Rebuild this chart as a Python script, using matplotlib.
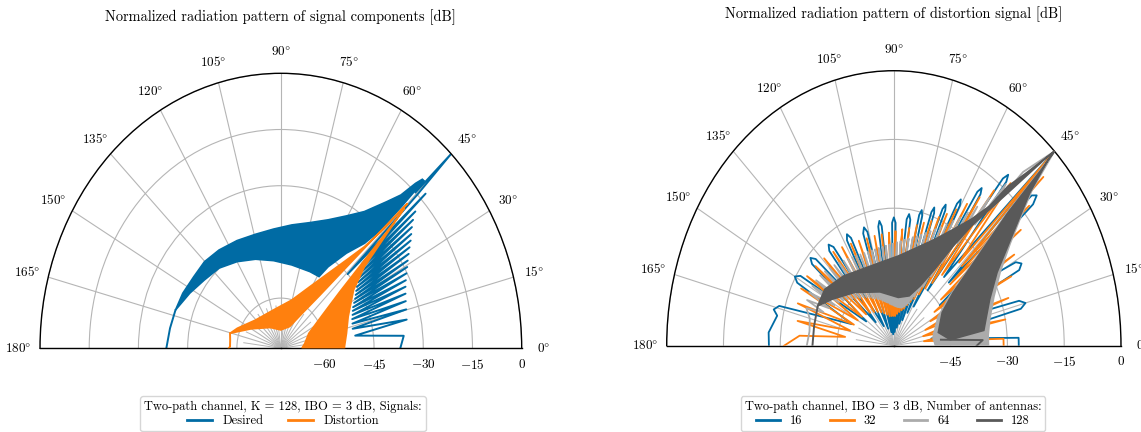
import numpy as np
import matplotlib
matplotlib.use("Agg")
import matplotlib.pyplot as plt
from matplotlib.lines import Line2D
from matplotlib.ticker import FuncFormatter

plt.rcParams['font.family'] = ['cmr10', 'DejaVu Serif']
plt.rcParams['mathtext.fontset'] = 'cm'
plt.rcParams['axes.formatter.use_mathtext'] = True

BLUE = '#006BA4'
ORANGE = '#FF800E'
LGRAY = '#ABABAB'
DGRAY = '#595959'

# ---------------- left panel: desired vs distortion (K = 128) ----------------
# side lobes below the beam, 0..45 deg (angle, level dB)
desired_side_theta = [0.0, 5.1, 8.5, 11.3, 13.4, 15.2, 16.8, 18.3, 19.7, 21.0, 22.2,
                      23.4, 24.5, 25.5, 26.5, 27.6, 28.5, 29.4, 30.3, 31.2, 32.0,
                      32.9, 33.7, 34.5, 35.3, 36.0, 36.8, 37.5, 38.3, 39.0, 39.7,
                      40.4, 41.1, 41.7, 42.4, 43.1, 44.2, 44.6, 45.0, 45.4, 45.8]
desired_side_r = [-37.0, -35.8, -50.5, -34.3, -50.9, -33.8, -50.6, -33.3, -50.3, -32.7, -49.8,
                  -32.0, -49.3, -31.2, -48.8, -30.2, -48.0, -29.2, -47.2, -28.2, -46.5,
                  -27.0, -45.8, -25.8, -45.0, -24.5, -44.0, -23.3, -43.0, -22.0, -42.0,
                  -20.5, -41.0, -18.5, -40.0, -13.0, -45.0, -15.0, 0.0, -15.0, -11.0]
# dense side-lobe band above the beam (upper / lower envelope)
desired_hi_theta = [45.8, 46.3, 47.0, 48.2, 50.5, 55.1, 60.5, 67.2, 75.2, 84.2, 94.0,
                    104.3, 114.9, 125.7, 135.2, 144.3, 153.8, 162.4]
desired_hi_r = [-11.0, -11.0, -13.2, -18.5, -22.7, -28.9, -32.8, -36.2, -38.7, -40.3, -41.5,
                -42.0, -41.7, -41.1, -40.6, -40.7, -40.1, -39.7]
desired_lo_theta = [162.4, 152.0, 142.0, 131.3, 120.0, 108.0, 95.4, 81.5, 66.6, 58.7,
                    56.5, 51.8, 47.7, 46.2, 45.8]
desired_lo_r = [-39.7, -42.0, -43.8, -44.9, -46.7, -48.4, -49.9, -50.9, -51.1, -51.0,
                -47.3, -41.1, -35.5, -30.0, -20.0]
desired_tail_theta = [162.4, 171.0, 180.0]
desired_tail_r = [-39.7, -39.2, -38.5]

dist_left_hi_theta = [45.0, 45.5, 46.8, 49.7, 54.2, 61.7, 75.5, 102.0, 135.7, 158.0, 165.5]
dist_left_hi_r = [-18.7, -29.1, -36.2, -42.5, -48.7, -54.7, -60.1, -62.9, -62.6, -59.1, -57.4]
dist_left_lo_theta = [165.5, 150.0, 120.0, 90.0, 65.0, 55.0, 50.0, 47.0, 45.8, 45.3]
dist_left_lo_r = [-57.4, -63.0, -67.0, -68.5, -67.0, -62.0, -55.0, -42.0, -30.0, -22.0]
dist_tail_theta = [165.5, 172.0, 178.4, 180.0]
dist_tail_r = [-57.4, -57.8, -57.9, -57.5]
dist_right_hi_theta = [44.8, 43.0, 40.5, 35.1, 22.4, 11.3, 1.3, 0.0]
dist_right_hi_r = [-20.3, -31.0, -39.9, -46.3, -51.2, -53.0, -54.0, -54.0]
dist_right_lo_theta = [0.0, 10.0, 25.0, 35.0, 40.0, 42.5, 43.8, 44.5]
dist_right_lo_r = [-67.0, -66.0, -64.0, -58.0, -50.0, -40.0, -30.0, -23.0]
# deep nulls of the pattern near the origin
left_null_theta = [7.5, 22.5, 37.5, 52.5, 67.5, 82.5, 97.5, 112.5, 127.5, 142.5, 157.5, 172.5]
left_null_top = -62.0

# ---------------- right panel: distortion vs number of antennas ----------------
# 128 antennas
a128_left_hi_theta = [45.0, 47.1, 49.1, 50.3, 53.4, 58.3, 65.0, 74.3, 86.6, 101.5, 117.0,
                      131.2, 146.0, 156.6]
a128_left_hi_r = [0.0, -8.5, -14.0, -20.4, -25.6, -30.2, -34.4, -37.8, -40.4, -41.5, -41.3,
                  -39.8, -38.0, -38.1]
a128_left_lo_theta = [156.6, 147.8, 131.9, 107.3, 83.7, 69.6, 62.0, 57.1, 54.2, 51.9, 47.9, 45.6]
a128_left_lo_r = [-38.1, -40.9, -44.4, -47.7, -49.4, -48.4, -45.2, -40.1, -33.2, -26.8, -15.0, -3.0]
a128_tail_theta = [156.6, 168.4, 180.0]
a128_tail_r = [-38.1, -38.5, -38.5]
a128_right_hi_theta = [45.0, 44.9, 42.9, 39.9, 35.9, 30.4, 21.9, 13.4, 8.0]
a128_right_hi_r = [0.0, -2.4, -11.0, -17.0, -22.8, -28.4, -32.7, -35.0, -36.0]
a128_right_lo_theta = [8.0, 5.0, 13.8, 29.6, 36.5, 40.3, 42.5, 43.9, 44.6]
a128_right_lo_r = [-36.0, -45.0, -47.9, -45.3, -40.5, -33.1, -25.7, -18.2, -5.0]
a128_base_theta = [0.0, 3.0, 6.0]
a128_base_r = [-38.1, -36.5, -47.5]

# 64 antennas: lobes above the beam (angle, level), from the main beam outwards
a64_lobe_theta = [45.0, 48.0, 49.0, 50.0, 51.0, 52.0, 53.0, 54.0, 55.0, 56.0, 57.0, 58.0, 59.0,
                  60.0, 61.1, 62.2, 63.3, 64.4, 65.5, 66.6, 67.7, 68.8, 69.9, 71.0, 72.1,
                  73.3, 74.4, 75.6, 76.8, 78.0, 79.2, 80.5, 81.7, 83.0, 84.2, 85.5, 86.7,
                  88.0, 89.2, 90.5, 91.7, 93.0, 94.2, 95.5, 96.7, 98.0, 99.3, 100.6, 101.9,
                  103.2, 104.5, 105.8, 107.1, 108.5, 109.8, 111.2, 112.6, 114.0, 115.4,
                  116.8, 118.2, 119.7, 121.1, 122.6, 124.1, 125.6, 127.1, 128.7, 130.2,
                  131.8, 133.4, 135.0, 136.6, 138.3, 140.0, 141.7, 143.4, 145.2, 147.0,
                  148.8, 150.6, 152.5, 154.5, 156.5, 158.5, 160.5, 165.0, 172.0, 180.0]
a64_lobe_r = [0.0, -9.0, -20.0, -14.0, -26.0, -19.0, -32.0, -22.5, -38.0, -25.0, -42.0, -27.0, -45.0,
              -28.5, -46.5, -30.0, -48.0, -31.3, -49.0, -32.3, -50.0, -33.2, -50.5, -34.0, -51.0,
              -34.7, -51.3, -35.3, -51.5, -35.8, -51.5, -36.3, -51.5, -36.7, -51.5, -37.1, -51.4,
              -37.4, -51.3, -37.7, -51.1, -37.9, -51.0, -38.1, -50.8, -38.2, -50.5, -38.3, -50.3,
              -38.4, -50.0, -38.4, -49.7, -38.4, -49.3, -38.3, -49.0, -38.2, -48.6,
              -38.0, -48.2, -37.8, -47.7, -37.5, -47.2, -37.2, -46.7, -36.8, -46.3,
              -36.4, -45.6, -36.0, -45.0, -35.6, -44.2, -35.2, -43.5, -35.0, -42.7,
              -34.8, -42.0, -34.8, -41.0, -35.0, -40.0, -35.5, -37.0, -37.5, -37.0]
a64_right_hi_theta = [45.0, 43.0, 40.0, 36.0, 30.0, 22.0, 13.0, 5.0, 0.0]
a64_right_hi_r = [0.0, -10.0, -16.2, -22.0, -27.5, -31.5, -34.0, -35.0, -35.0]
a64_right_lo_theta = [0.0, 10.0, 28.0, 36.0, 40.0, 42.5, 44.0, 44.7]
a64_right_lo_r = [-49.0, -49.5, -46.8, -42.0, -35.0, -27.0, -19.5, -6.0]

# 32 antennas: individual lobes (angle, level)
a32_theta = [0.0, 3.0, 7.0, 11.0, 15.0, 19.0, 22.5, 26.0, 29.0, 32.0, 34.5, 37.0, 39.0,
             40.5, 42.0, 43.0, 44.0, 45.0,
             46.5, 49.0, 50.5, 52.0, 53.5, 55.0, 56.5, 58.0, 59.5, 61.0, 62.5, 64.0, 65.5,
             67.0, 68.5, 70.0, 71.8, 73.5, 75.2, 77.0, 79.0, 81.0, 83.0, 85.0, 87.0, 89.0,
             91.0, 93.0, 95.2, 97.5, 99.8, 102.0, 104.5, 107.0, 109.5, 112.0, 114.5, 117.0,
             119.8, 122.5, 125.2, 128.0, 131.0, 134.0, 137.0, 140.0, 143.2, 146.5, 149.8,
             153.0, 156.5, 160.0, 164.0, 168.0, 171.5, 175.0, 180.0]
a32_r = [-31.0, -31.0, -52.0, -30.0, -52.0, -28.0, -51.0, -25.5, -49.0, -22.5, -47.0, -18.0, -44.0,
         -13.0, -40.0, -6.0, -35.0, 0.0,
         -35.0, -13.0, -40.0, -17.0, -43.0, -20.5, -45.0, -23.5, -47.0, -26.0, -48.5, -28.0, -49.5,
         -29.5, -50.5, -31.0, -51.5, -32.0, -52.0, -33.0, -52.5, -34.0, -53.0, -34.5, -53.5, -35.0,
         -53.5, -35.3, -53.5, -35.5, -53.5, -35.5, -53.0, -35.5, -52.5, -35.3, -52.0, -35.0,
         -51.5, -34.5, -51.0, -34.0, -50.5, -33.5, -50.0, -33.0, -49.5, -32.5, -49.0,
         -32.5, -48.5, -33.0, -48.0, -34.0, -47.0, -35.0, -31.0]

# 16 antennas: individual lobes with rounded tips (angle, level)
a16_theta = [0.0, 3.0, 9.0,
             13.5, 15.0, 16.5, 22.0,
             26.5, 28.0, 29.5, 36.0,
             40.0, 41.0, 42.0, 43.5, 45.0, 48.5,
             50.3, 51.0, 51.7, 53.5,
             55.3, 56.0, 56.7, 58.5,
             60.3, 61.0, 61.7, 63.5,
             65.3, 66.0, 66.7, 68.0,
             69.8, 70.5, 71.2, 73.0,
             75.2, 76.0, 76.8, 79.0,
             81.0, 82.0, 83.0, 86.0,
             89.0, 90.0, 91.0, 94.0,
             97.0, 98.0, 99.0, 102.0,
             105.7, 107.0, 108.3, 112.0,
             115.7, 117.0, 118.3, 122.0,
             126.5, 128.0, 129.5, 133.0,
             137.5, 139.0, 140.5, 144.0,
             148.3, 150.0, 151.7, 157.0,
             164.0, 166.0, 168.0, 175.0, 180.0]
a16_r = [-27.0, -27.0, -50.0,
         -25.5, -24.0, -25.5, -48.0,
         -23.0, -21.8, -23.0, -45.0,
         -12.0, -10.0, -11.0, -40.0, 0.0, -40.0,
         -13.5, -12.0, -13.5, -45.0,
         -19.8, -18.5, -19.8, -50.0,
         -24.8, -23.5, -24.8, -52.0,
         -27.5, -26.3, -27.5, -54.0,
         -29.2, -28.0, -29.2, -55.0,
         -30.7, -29.5, -30.7, -56.0,
         -32.2, -31.0, -32.2, -57.0,
         -33.2, -32.0, -33.2, -57.5,
         -33.7, -32.5, -33.7, -57.0,
         -34.2, -33.0, -34.2, -56.0,
         -33.9, -32.7, -33.9, -55.0,
         -33.2, -32.0, -33.2, -53.0,
         -32.0, -30.8, -32.0, -51.0,
         -31.0, -29.8, -31.0, -48.0,
         -28.5, -27.3, -28.5, -26.8, -27.0]
# deep nulls of the pattern near the origin
right_null_theta = [7.5, 22.5, 37.5, 52.5, 67.5, 82.5, 97.5, 112.5, 127.5, 142.5, 157.5, 172.5]
right_null_top = -50.0


def polar_fill(ax, th_hi, r_hi, th_lo, r_lo, color, z):
    th = np.deg2rad(np.concatenate([th_hi, th_lo]))
    rr = np.concatenate([r_hi, r_lo])
    ax.fill(th, rr, color=color, lw=1.2, ec=color, zorder=z)


def polar_line(ax, th, r, color, z, lw=1.4):
    ax.plot(np.deg2rad(th), r, color=color, lw=lw, zorder=z, solid_joinstyle='round')


def null_spokes(ax, thetas, top):
    rmin = ax.get_rmin()
    for t in thetas:
        ax.plot([np.deg2rad(t)] * 2, [rmin, top], color='#b5b5b5', lw=0.7, zorder=1)


deg_fmt = FuncFormatter(lambda x, pos: r'$%d\degree$' % int(round(np.rad2deg(x))))


def style_axes(ax, rmin, rticks):
    ax.set_thetamin(0)
    ax.set_thetamax(180)
    ax.set_aspect('auto')
    ax.set_rlim(rmin, 0)
    ax.set_rticks(rticks)
    ax.set_thetagrids(np.arange(0, 181, 15))
    ax.xaxis.set_major_formatter(deg_fmt)
    ax.grid(True, color='#b5b5b5', lw=0.8)
    ax.tick_params(axis='both', labelsize=9.5)
    ax.tick_params(axis='x', pad=5)
    for s in ax.spines.values():
        s.set_color('black')
        s.set_linewidth(1.0)


fig = plt.figure(figsize=(11.41, 4.32), dpi=100)
W, H = 1141.0, 432.0


def wedge_rect(x0, x1, y_top, y_base):
    # the half disc fills the middle half of the axes box vertically
    h = y_base - y_top
    bottom_px = y_base + h / 2.0
    return [x0 / W, (H - bottom_px) / H, (x1 - x0) / W, 2 * h / H]


axL = fig.add_axes(wedge_rect(40.0, 521.7, 73.3, 348.3), projection='polar')
style_axes(axL, -73.4, [-60, -45, -30, -15, 0])
null_spokes(axL, left_null_theta, left_null_top)
polar_fill(axL, desired_hi_theta, desired_hi_r, desired_lo_theta, desired_lo_r, BLUE, 2)
polar_line(axL, desired_side_theta, desired_side_r, BLUE, 2)
polar_line(axL, desired_tail_theta, desired_tail_r, BLUE, 2)
polar_fill(axL, dist_left_hi_theta, dist_left_hi_r, dist_left_lo_theta, dist_left_lo_r, ORANGE, 3)
polar_fill(axL, dist_right_hi_theta, dist_right_hi_r, dist_right_lo_theta, dist_right_lo_r, ORANGE, 3)
polar_line(axL, dist_tail_theta, dist_tail_r, ORANGE, 3)
fig.text(280.8 / W, 1 - 17 / H, 'Normalized radiation pattern of signal components [dB]',
         ha='center', va='center', fontsize=10.4)
legL = fig.legend([Line2D([], [], color=BLUE, lw=2), Line2D([], [], color=ORANGE, lw=2)],
                  ['Desired', 'Distortion'], ncol=2, loc='upper center',
                  bbox_to_anchor=(283 / W, 1 - 390 / H),
                  title='Two-path channel, K = 128, IBO = 3 dB, Signals:',
                  fontsize=9, title_fontsize=9, frameon=True, borderpad=0.3, handlelength=2.0,
                  columnspacing=2.0, labelspacing=0.2)
legL.get_frame().set_edgecolor('#cccccc')

axR = fig.add_axes(wedge_rect(666.7, 1121.0, 70.7, 345.7), projection='polar')
style_axes(axR, -60, [-45, -30, -15, 0])
null_spokes(axR, right_null_theta, right_null_top)
polar_line(axR, a16_theta, a16_r, BLUE, 2, lw=1.3)
polar_line(axR, a32_theta, a32_r, ORANGE, 3, lw=1.3)
polar_line(axR, a64_lobe_theta, a64_lobe_r, LGRAY, 4, lw=1.3)
polar_fill(axR, a64_right_hi_theta, a64_right_hi_r, a64_right_lo_theta, a64_right_lo_r, LGRAY, 4)
polar_fill(axR, a128_left_hi_theta, a128_left_hi_r, a128_left_lo_theta, a128_left_lo_r, DGRAY, 5)
polar_fill(axR, a128_right_hi_theta, a128_right_hi_r, a128_right_lo_theta, a128_right_lo_r, DGRAY, 5)
polar_line(axR, a128_tail_theta, a128_tail_r, DGRAY, 5)
polar_line(axR, a128_base_theta, a128_base_r, DGRAY, 5)
fig.text(893.8 / W, 1 - 14 / H, 'Normalized radiation pattern of distortion signal [dB]',
         ha='center', va='center', fontsize=10.4)
legR = fig.legend([Line2D([], [], color=c, lw=2) for c in (BLUE, ORANGE, LGRAY, DGRAY)],
                  ['16', '32', '64', '128'], ncol=4, loc='upper center',
                  bbox_to_anchor=(893 / W, 1 - 390 / H),
                  title='Two-path channel, IBO = 3 dB, Number of antennas:',
                  fontsize=9, title_fontsize=9, frameon=True, borderpad=0.3, handlelength=1.9,
                  columnspacing=2.2, labelspacing=0.2)
legR.get_frame().set_edgecolor('#cccccc')

fig.savefig('out.png', dpi=100)
